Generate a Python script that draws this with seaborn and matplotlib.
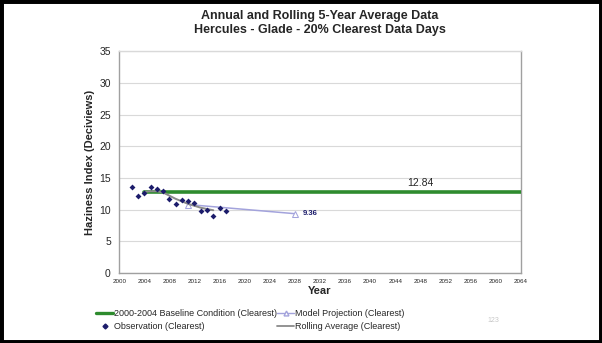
import numpy as np
import pandas as pd
import matplotlib
matplotlib.use("Agg")
import matplotlib.pyplot as plt
import seaborn as sns
from matplotlib.lines import Line2D
from matplotlib.patches import Rectangle

# ── Data ──────────────────────────────────────────────────────────────────────
obs_years = [2002, 2003, 2004, 2005, 2006, 2007, 2008, 2009,
             2010, 2011, 2012, 2013, 2014, 2015, 2016, 2017]
obs_values = [13.6, 12.2, 12.6, 13.5, 13.3, 13.0, 11.7, 10.9,
              11.5, 11.4, 11.0, 9.8, 10.0, 9.0, 10.2, 9.8]

roll_years = [2004, 2005, 2006, 2007, 2008, 2009, 2010, 2011,
              2012, 2013, 2014, 2015]
roll_values = [12.8, 12.9, 12.9, 12.7, 12.2, 11.7, 11.3, 10.9,
               10.6, 10.3, 10.1, 9.9]

base_years = [2004, 2064]
base_value = 12.84

proj_years = [2011, 2028]
proj_values = [10.8, 9.36]

x_ticks = list(range(2000, 2065, 4))
y_ticks = [0, 5, 10, 15, 20, 25, 30, 35]

obs_df = pd.DataFrame({"year": obs_years, "value": obs_values})
roll_df = pd.DataFrame({"year": roll_years, "value": roll_values})
base_df = pd.DataFrame({"year": base_years, "value": [base_value] * len(base_years)})
proj_df = pd.DataFrame({"year": proj_years, "value": proj_values})

# ── Style ─────────────────────────────────────────────────────────────────────
sns.set_style("white")
plt.rcParams["font.family"] = ["Liberation Sans", "DejaVu Sans"]

GREEN = "#2e8b2e"
NAVY = "#1c1c6b"
GRAY = "#8a8a8a"
LAVENDER = "#a3a3dc"
AXIS = "#a0a0a0"

fig = plt.figure(figsize=(6.02, 3.43), dpi=100)
ax = fig.add_axes([0.198, 0.204, 0.667, 0.647])

# ── Series ────────────────────────────────────────────────────────────────────
sns.lineplot(data=base_df, x="year", y="value", ax=ax, color=GREEN, lw=2.6, zorder=3)
sns.lineplot(data=proj_df, x="year", y="value", ax=ax, color=LAVENDER, lw=1.1,
             marker="^", markersize=4, markerfacecolor="white",
             markeredgecolor=LAVENDER, zorder=4)
sns.lineplot(data=roll_df, x="year", y="value", ax=ax, color=GRAY, lw=1.4, zorder=5)
sns.scatterplot(data=obs_df, x="year", y="value", ax=ax, color=NAVY, marker="D",
                s=9, linewidth=0, zorder=6)

ax.text(2048, 13.4, f"{base_value:.2f}", fontsize=7.5, ha="center", va="bottom")
ax.text(2029.3, proj_values[-1], f"{proj_values[-1]:.2f}", fontsize=5.5,
        fontweight="bold", color=NAVY, ha="left", va="center")

# ── Axes ──────────────────────────────────────────────────────────────────────
ax.set_xlim(2000, 2064)
ax.set_ylim(0, 35)
ax.set_xticks(x_ticks)
ax.set_yticks(y_ticks)
ax.tick_params(axis="x", labelsize=4.5, length=2, color=AXIS, pad=2)
ax.tick_params(axis="y", labelsize=7.5, length=3, color=AXIS, pad=3)
ax.grid(axis="y", color="#d9d9d9", lw=0.8)
for side in ["left", "bottom", "right", "top"]:
    ax.spines[side].set_color(AXIS)
    ax.spines[side].set_linewidth(1.0)
ax.spines["top"].set_color("#d9d9d9")

ax.set_xlabel("Year", fontsize=8, fontweight="bold", labelpad=2)
ax.set_ylabel("Haziness Index (Deciviews)", fontsize=8, fontweight="bold", labelpad=3)
ax.set_title("Annual and Rolling 5-Year Average Data\n"
             "Hercules - Glade - 20% Clearest Data Days",
             fontsize=9, fontweight="bold", pad=13, linespacing=1.2)

# ── Legend ────────────────────────────────────────────────────────────────────
handles = [
    Line2D([], [], color=GREEN, lw=2.4),
    Line2D([], [], color=NAVY, marker="D", ms=2.5, lw=0),
    Line2D([], [], color=LAVENDER, lw=1.0, marker="^", ms=3.5,
           markerfacecolor="white"),
    Line2D([], [], color=GRAY, lw=1.3),
]
labels = [
    "2000-2004 Baseline Condition (Clearest)",
    "Observation (Clearest)",
    "Model Projection (Clearest)",
    "Rolling Average (Clearest)",
]
fig.legend(handles, labels, loc="center left", bbox_to_anchor=(0.152, 0.067),
           ncol=2, frameon=False, fontsize=6.5, handlelength=1.9,
           handletextpad=0.1, columnspacing=0.0, labelspacing=0.45,
           borderpad=0)

fig.text(0.81, 0.06, "123", fontsize=5, color="#c8c8c8")

# slide border
fig.patches.append(Rectangle((0, 0), 1, 1, transform=fig.transFigure,
                             fill=False, edgecolor="black", lw=5, zorder=10))

fig.savefig("out.png", dpi=100)
plt.close(fig)
